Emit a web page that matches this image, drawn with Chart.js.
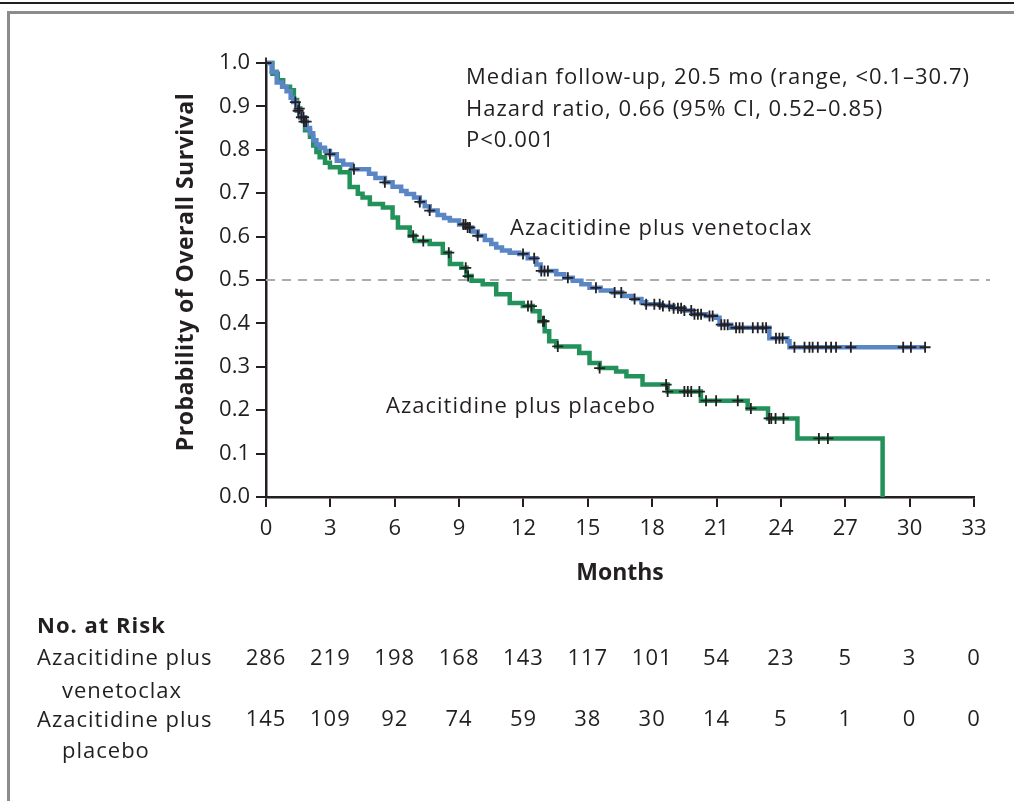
<!DOCTYPE html>
<html lang="en">
<head>
<meta charset="UTF-8" />
<title>Overall Survival</title>
<style>
  html, body { margin: 0; padding: 0; background: #fff; }
  #wrap { width: 1014px; height: 801px; }
</style>
<script src="https://cdn.jsdelivr.net/npm/chart.js"></script>
</head>
<body>
<div id="wrap"><canvas id="km" width="1014" height="801"></canvas></div>

<script>
  // Kaplan-Meier steps: month of each step and survival right after it
  const venMonths = [0, 0.26, 0.5, 0.75, 0.96, 1.15, 1.27, 1.43, 1.6, 1.75, 1.9, 2.05, 2.2, 2.35, 2.51, 2.75, 2.98, 3.3, 3.6, 4.0,
    4.8, 5.1, 5.54, 5.9, 6.3, 6.55, 6.9, 7.17, 7.4, 7.63, 8.0, 8.3, 8.57, 9.0, 9.34, 9.6, 9.87, 10.2, 10.5, 10.73,
    11.0, 11.36, 11.8, 12.2, 12.6, 12.8, 13.53, 13.9, 14.3, 14.7, 15.08, 15.6, 16.17, 16.6, 17.1, 17.5, 17.72, 18.4, 19.0, 19.5,
    19.9, 20.5, 20.98, 21.14, 21.68, 23.46, 24.3, 24.4, 30.72];
  const venSurv = [1.0, 0.98, 0.955, 0.945, 0.935, 0.92, 0.91, 0.89, 0.875, 0.865, 0.85, 0.838, 0.822, 0.812, 0.805, 0.797, 0.79, 0.775, 0.766, 0.755,
    0.745, 0.735, 0.725, 0.715, 0.705, 0.698, 0.69, 0.68, 0.67, 0.66, 0.65, 0.643, 0.637, 0.628, 0.621, 0.612, 0.602, 0.592, 0.583, 0.575,
    0.568, 0.563, 0.56, 0.55, 0.536, 0.521, 0.513, 0.505, 0.498, 0.49, 0.482, 0.476, 0.471, 0.463, 0.456, 0.449, 0.444, 0.44, 0.435, 0.43,
    0.421, 0.417, 0.413, 0.397, 0.39, 0.366, 0.359, 0.345, 0.345];
  const venCensored = [0, 1.37, 1.5, 1.65, 1.77, 1.87, 2.98, 4.1, 5.54, 7.17, 7.63, 9.2, 9.3, 9.4, 9.5, 9.87, 11.98, 12.5, 12.83, 12.98,
    13.14, 14.07, 15.38, 16.25, 16.56, 17.18, 17.72, 18.1, 18.35, 18.5, 18.8, 19.0, 19.2, 19.35, 19.5, 19.82, 19.97, 20.13, 20.28, 20.67,
    20.82, 21.22, 21.37, 21.52, 21.91, 22.07, 22.22, 22.69, 22.92, 23.15, 23.31, 23.77, 23.93, 24.08, 24.63, 25.1, 25.33, 25.48, 25.72, 26.1,
    26.34, 26.57, 27.26, 29.7, 30.06, 30.72];

  const plaMonths = [0, 0.3, 0.55, 0.8, 1.12, 1.3, 1.45, 1.6, 1.82, 2.05, 2.2, 2.35, 2.5, 2.75, 2.98, 3.45, 3.9, 4.28, 4.5, 4.84,
    5.45, 5.9, 6.15, 6.7, 6.94, 7.63, 8.24, 8.57, 9.1, 9.34, 9.58, 10.1, 10.73, 11.36, 11.97, 12.43, 12.75, 12.99, 13.2, 13.53,
    14.6, 15.08, 15.55, 16.32, 16.8, 17.55, 18.72, 20.27, 22.45, 23.4, 24.77, 28.74];
  const plaSurv = [1.0, 0.975, 0.96, 0.945, 0.937, 0.915, 0.895, 0.875, 0.845, 0.83, 0.81, 0.795, 0.783, 0.77, 0.76, 0.748, 0.714, 0.699, 0.69, 0.675,
    0.667, 0.644, 0.621, 0.602, 0.59, 0.583, 0.563, 0.537, 0.528, 0.509, 0.498, 0.49, 0.467, 0.447, 0.44, 0.428, 0.405, 0.382, 0.359, 0.347,
    0.332, 0.309, 0.297, 0.289, 0.278, 0.259, 0.243, 0.222, 0.204, 0.181, 0.135, 0];
  const plaCensored = [1.55, 1.75, 6.86, 7.33, 8.52, 9.31, 9.42, 12.21, 12.37, 12.91, 12.96, 13.6, 15.55, 18.65, 18.72, 19.5, 19.66, 19.82, 20.2,
    20.51, 20.98, 21.99, 22.6, 23.45, 23.55, 23.75, 24.12, 25.77, 26.19];

  const xTicks = [0, 3, 6, 9, 12, 15, 18, 21, 24, 27, 30, 33];
  const riskVen = [286, 219, 198, 168, 143, 117, 101, 54, 23, 5, 3, 0];
  const riskPla = [145, 109, 92, 74, 59, 38, 30, 14, 5, 1, 0, 0];
  const medianLevel = 0.5;

  const INK = '#231f20';
  const BLUE = '#5a86c6';
  const GREEN = '#23915a';
  const FONT = "'Open Sans', sans-serif";

  function steps(months, surv) {
    return months.map((m, i) => ({ x: m, y: surv[i] }));
  }

  // survival of the curve at time t (value of last step at or before t)
  function survAt(months, surv, t) {
    let s = surv[0];
    for (let i = 0; i < months.length; i++) {
      if (months[i] <= t) s = surv[i];
      else break;
    }
    return s;
  }

  function marks(times, months, surv) {
    return times.map(t => ({ x: t, y: survAt(months, surv, t) }));
  }

  const decorations = {
    id: 'decorations',
    afterDraw(chart) {
      const ctx = chart.ctx;
      const xs = chart.scales.x;
      ctx.save();

      // frame
      ctx.fillStyle = INK;
      ctx.fillRect(0, 2, 1014, 2);
      ctx.fillStyle = '#8c8c8c';
      ctx.fillRect(7, 11, 1007, 3);
      ctx.fillRect(7, 11, 3, 790);

      ctx.fillStyle = INK;
      ctx.letterSpacing = '1px';

      // y axis title
      ctx.save();
      ctx.translate(193, 272);
      ctx.rotate(-Math.PI / 2);
      ctx.textAlign = 'center';
      ctx.textBaseline = 'alphabetic';
      ctx.font = 'bold 23px ' + FONT;
      ctx.letterSpacing = '0.5px';
      ctx.fillText('Probability of Overall Survival', 0, 0);
      ctx.restore();

      ctx.textBaseline = 'middle';
      ctx.textAlign = 'left';
      ctx.font = '22px ' + FONT;
      ctx.fillText('Median follow-up, 20.5 mo (range, <0.1\u201330.7)', 466, 78);
      ctx.fillText('Hazard ratio, 0.66 (95% CI, 0.52\u20130.85)', 466, 110);
      ctx.fillText('P<0.001', 466, 141);

      ctx.fillText('Azacitidine plus venetoclax', 510, 229);
      ctx.fillText('Azacitidine plus placebo', 386, 407);

      // number at risk table
      ctx.textBaseline = 'alphabetic';
      ctx.font = 'bold 22px ' + FONT;
      ctx.fillText('No. at Risk', 37, 633);
      ctx.font = '22px ' + FONT;
      ctx.fillText('Azacitidine plus', 37, 665);
      ctx.fillText('venetoclax', 62, 698);
      ctx.fillText('Azacitidine plus', 37, 727);
      ctx.fillText('placebo', 62, 758);

      ctx.textAlign = 'center';
      xTicks.forEach((m, i) => {
        const px = xs.getPixelForValue(m);
        ctx.fillText(String(riskVen[i]), px, 665);
        ctx.fillText(String(riskPla[i]), px, 726);
      });
      ctx.restore();
    }
  };

  const ctx = document.getElementById('km').getContext('2d');
  new Chart(ctx, {
    type: 'line',
    data: {
      datasets: [
        {
          label: 'Censored (venetoclax)',
          data: marks(venCensored, venMonths, venSurv),
          showLine: false,
          pointStyle: 'cross',
          pointRadius: 5.5,
          pointBorderWidth: 1.8,
          pointBorderColor: INK,
          order: 0,
          clip: false
        },
        {
          label: 'Censored (placebo)',
          data: marks(plaCensored, plaMonths, plaSurv),
          showLine: false,
          pointStyle: 'cross',
          pointRadius: 5.5,
          pointBorderWidth: 1.8,
          pointBorderColor: INK,
          order: 0,
          clip: false
        },
        {
          label: 'Azacitidine plus venetoclax',
          data: steps(venMonths, venSurv),
          stepped: true,
          borderColor: BLUE,
          borderWidth: 4.5,
          pointRadius: 0,
          fill: false,
          order: 1,
          clip: false
        },
        {
          label: 'Azacitidine plus placebo',
          data: steps(plaMonths, plaSurv),
          stepped: true,
          borderColor: GREEN,
          borderWidth: 4.5,
          pointRadius: 0,
          fill: false,
          order: 2,
          clip: false
        },
        {
          label: 'Median',
          data: [{ x: 0, y: medianLevel }, { x: 33.75, y: medianLevel }],
          borderColor: '#a9abae',
          borderWidth: 2,
          borderDash: [9, 7],
          pointRadius: 0,
          order: 3,
          clip: false
        }
      ]
    },
    options: {
      responsive: false,
      animation: false,
      events: [],
      layout: { padding: { left: 160, right: 40, top: 63, bottom: 214 } },
      plugins: {
        legend: { display: false },
        tooltip: { enabled: false }
      },
      scales: {
        x: {
          type: 'linear',
          min: 0,
          max: 33,
          afterFit: s => { s.height = 90; },
          afterBuildTicks: s => { s.ticks = xTicks.map(v => ({ value: v })); },
          ticks: { color: INK, font: { family: FONT, size: 22 }, padding: 9 },
          grid: { drawOnChartArea: false, drawTicks: true, tickLength: 10, color: INK, lineWidth: 2 },
          border: { display: true, color: INK, width: 2.5 },
          title: { display: true, text: 'Months', color: INK, font: { family: FONT, size: 23, weight: 'bold' }, padding: 0 }
        },
        y: {
          min: 0,
          max: 1,
          afterFit: s => { s.width = 106; },
          ticks: {
            stepSize: 0.1,
            color: INK,
            font: { family: FONT, size: 22 },
            padding: 6,
            callback: v => Number(v).toFixed(1)
          },
          grid: { drawOnChartArea: false, drawTicks: true, tickLength: 10, color: INK, lineWidth: 2 },
          border: { display: true, color: INK, width: 2.5 },
          title: { display: false }
        }
      }
    },
    plugins: [decorations]
  });
</script>
</body>
</html>
